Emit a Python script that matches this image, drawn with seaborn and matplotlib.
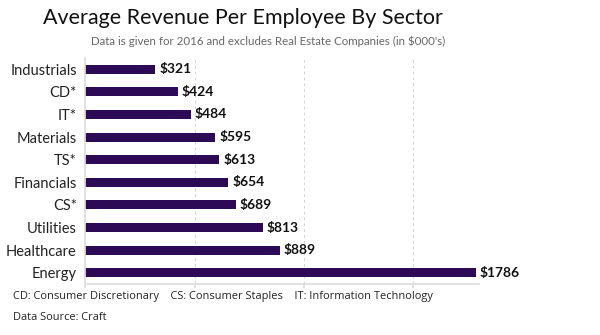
import matplotlib
matplotlib.use("Agg")
import matplotlib.pyplot as plt
import seaborn as sns
import pandas as pd

sectors = ["Industrials", "CD*", "IT*", "Materials", "TS*", "Financials",
           "CS*", "Utilities", "Healthcare", "Energy"]
revenue = [321, 424, 484, 595, 613, 654, 689, 813, 889, 1786]
value_labels = ["$321", "$424", "$484", "$595", "$613", "$654", "$689",
                "$813", "$889", "$1786"]
x_ticks = [0, 500, 1000, 1500]

df = pd.DataFrame({"sector": sectors, "revenue": revenue})

sns.set_theme(style="white")
plt.rcParams['font.family'] = ['Lato', 'DejaVu Sans']

fig = plt.figure(figsize=(6, 3.35), dpi=100)
ax = fig.add_axes([0.142, 0.152, 0.656, 0.675])

sns.barplot(data=df, x="revenue", y="sector", color="#2D0A55", width=0.4,
            saturation=1, ax=ax, orient="h", linewidth=0, edgecolor="none")

ax.set_xlim(0, 1800)
ax.set_ylim(9.5, -0.5)
ax.set_xticks(x_ticks)
ax.set_xticklabels([])
ax.tick_params(axis="x", length=3, color="#dddddd", bottom=True)
ax.tick_params(axis="y", length=0, labelsize=10.5, labelcolor="#222222", pad=6)
ax.set_xlabel("")
ax.set_ylabel("")
for x in x_ticks[1:]:
    ax.axvline(x, color="#d4d4d4", linestyle=(0, (3, 3)), linewidth=0.7, zorder=0)

for s in ["top", "right"]:
    ax.spines[s].set_visible(False)
ax.spines["left"].set_color("#dddddd")
ax.spines["bottom"].set_color("#dddddd")
ax.spines["bottom"].set_linewidth(1.2)

for i, (v, lab) in enumerate(zip(revenue, value_labels)):
    ax.text(v + 18, i, lab, va="center", ha="left", fontsize=10,
            fontweight="bold", color="#111111")

fig.text(0.405, 0.945, "Average Revenue Per Employee By Sector", ha="center",
         va="center", fontsize=15.5, color="#111111")
fig.text(0.447, 0.878, "Data is given for 2016 and excludes Real Estate Companies (in $000's)",
         ha="center", va="center", fontsize=8.3, color="#666666")
fig.text(0.022, 0.116, "CD: Consumer Discretionary    CS: Consumer Staples    IT: Information Technology",
         ha="left", va="center", fontsize=7.9, color="#222222", family=["Open Sans", "DejaVu Sans"])
fig.text(0.022, 0.051, "Data Source: Craft", ha="left", va="center", fontsize=7.9,
         color="#222222", family=["Open Sans", "DejaVu Sans"])

fig.savefig("out.png", dpi=100, facecolor="white")
